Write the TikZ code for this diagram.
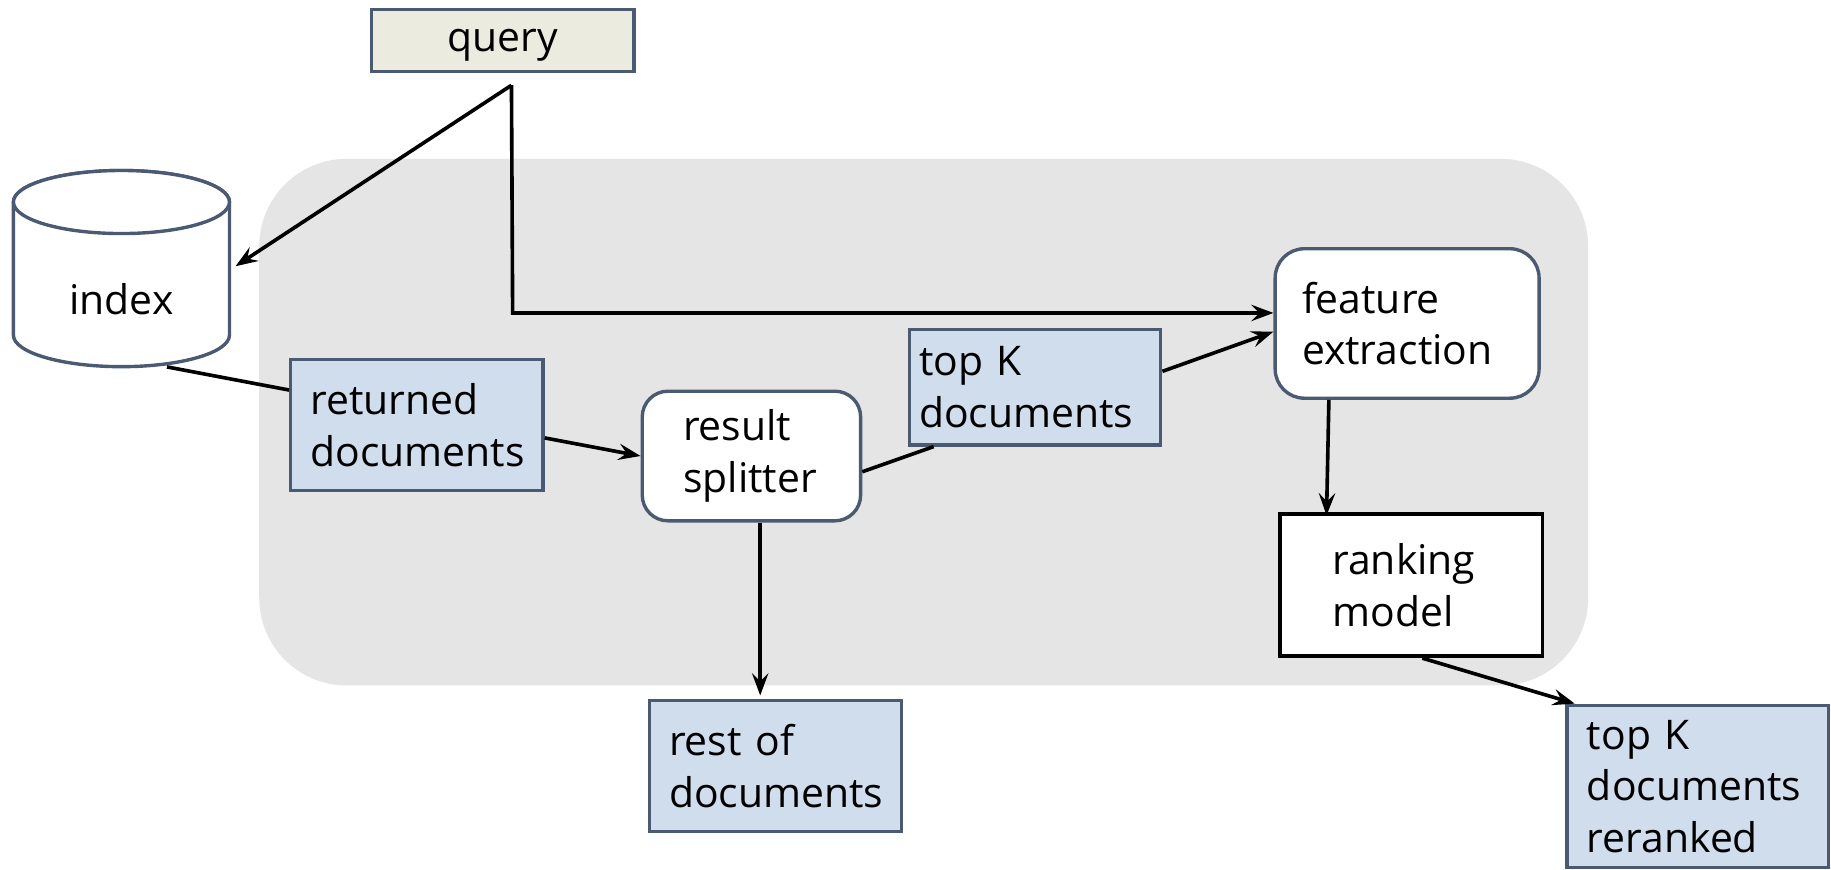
\documentclass[tikz,border=0pt]{standalone}
\usepackage{fontspec}
\setmainfont{Open Sans}
\usetikzlibrary{arrows.meta,calc}
\definecolor{slate}{HTML}{4A5A72}
\definecolor{bluefill}{HTML}{CFDDED}
\definecolor{queryfill}{HTML}{ECEBE0}
\definecolor{panel}{HTML}{E5E5E5}
\begin{document}
\begin{tikzpicture}[x=1pt,y=-1pt,
  lbl/.style={font=\fontsize{35}{44}\selectfont, align=left, inner sep=0pt},
  bluebox/.style={lbl, draw=slate, line width=2.9pt, fill=bluefill},
  roundbox/.style={lbl, draw=slate, line width=2.9pt, fill=white, rounded corners=22pt},
  plainbox/.style={lbl, draw=black, line width=3.2pt, fill=white},
  conn/.style={line width=3.1pt, draw=black},
  arr/.style={conn, -{Stealth[length=19pt,width=14pt,inset=7pt]}},
  cyl/.style={draw=slate, line width=2.9pt, fill=white},
]
\useasboundingbox (0,0) rectangle (1568,745);
\fill[white] (0,0) rectangle (1568,745);
\fill[panel, rounded corners=75pt] (222,136) rectangle (1360,587);

% cylinder "index"
\node[minimum width=185pt, minimum height=168pt, inner sep=0pt] (index) at (104,230) {};
\filldraw[cyl] (11.5,173) -- (11.5,287) arc[start angle=180, end angle=0, x radius=92.5, y radius=27]
  -- (196.5,173) arc[start angle=0, end angle=-180, x radius=92.5, y radius=27] -- cycle;
\draw[cyl] (104,173) ellipse[x radius=92.5, y radius=27];
\node[lbl] (indexlabel) at (104,256) {index};

\node[lbl, draw=slate, line width=2.9pt, fill=queryfill, minimum width=225pt, minimum height=53pt, align=center, text depth=0pt] (query) at (430.5,34.5) {query};
\node[bluebox, minimum width=216pt, minimum height=112pt, inner xsep=17pt, text width=182pt] (retd) at (357,364) {returned\\documents};
\node[roundbox, minimum width=187pt, minimum height=111pt, inner xsep=35pt, text width=117pt] (split) at (643.5,390.5) {result\\splitter};
\node[bluebox, minimum width=215pt, minimum height=99pt, inner xsep=8pt, text width=199pt] (topk) at (886.5,331.5) {top K\\documents};
\node[roundbox, rounded corners=25pt, minimum width=226pt, minimum height=128pt, inner xsep=23pt, text width=180pt] (feat) at (1205,277) {feature\\extraction};
\node[plainbox, minimum width=225pt, minimum height=122pt, inner xsep=45pt, text width=135pt] (rank) at (1208.5,501) {ranking\\model};
\node[bluebox, minimum width=216pt, minimum height=112pt, inner xsep=17pt, text width=182pt] (rest) at (664,656) {rest of\\documents};
\node[bluebox, minimum width=224pt, minimum height=139pt, inner xsep=17pt, text width=190pt] (rerank) at (1454,673.5) {top K\\documents\\reranked};

% connectors
\coordinate (qsplit) at (438,73);
\coordinate (qbend) at (439,268);
\draw[arr] (qsplit) -- ([xshift=5pt,yshift=2pt]index.east);
\draw[arr] (qsplit) -- (qbend) -- (qbend -| feat.west);
\draw[conn] ([xshift=39pt]index.south) -- ([yshift=30pt]retd.west);
\draw[arr] ([yshift=-11pt]retd.east) -- (split.west);
\draw[conn] ([yshift=-13.5pt]split.east) -- ([xshift=22pt]topk.south west);
\draw[arr] ([yshift=13.5pt]topk.east) -- ([yshift=-7pt]feat.west);
\draw[arr] ([xshift=-67pt]feat.south) -- ([xshift=-72.5pt,yshift=-3pt]rank.north);
\draw[arr] ([xshift=7.5pt]split.south) -- ([xshift=-13pt,yshift=3pt]rest.north);
\draw[arr] ([xshift=9.5pt]rank.south) -- ([xshift=8pt]rerank.north west);
\end{tikzpicture}
\end{document}
